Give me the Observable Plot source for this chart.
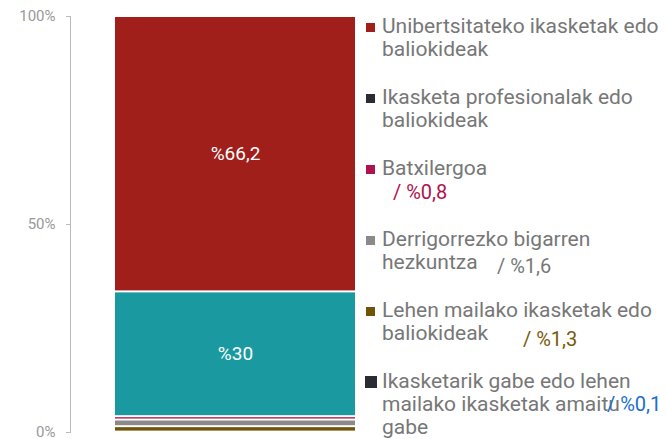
<!DOCTYPE html>
<html>
<head>
<meta charset="utf-8">
<script src="https://cdn.jsdelivr.net/npm/d3@7"></script>
<script src="https://cdn.jsdelivr.net/npm/@observablehq/plot@0.6"></script>
<style>
  html, body { margin: 0; padding: 0; background: #fff; }
  #wrap { position: relative; width: 667px; height: 439px; font-family: Roboto, sans-serif; }
  #legend { position: absolute; left: 366px; top: 15px; width: 302px; }
  .item { position: relative; height: 71px; font-size: 21px; line-height: 23px; color: #777; padding-left: 16px; box-sizing: border-box; }
  .sw { position: absolute; left: 0; top: 8px; width: 9px; height: 9px; }
  .pct { position: absolute; font-size: 20px; white-space: nowrap; }
</style>
</head>
<body>
<div id="wrap">
  <div id="chart"></div>
  <div id="legend"></div>
</div>
<script>
// Stack order from bottom to top
const categories = [
  "Ikasketarik gabe edo lehen mailako ikasketak amaitu gabe",
  "Lehen mailako ikasketak edo baliokideak",
  "Derrigorrezko bigarren hezkuntza",
  "Batxilergoa",
  "Ikasketa profesionalak edo baliokideak",
  "Unibertsitateko ikasketak edo baliokideak"
];
const values = [0.1, 1.3, 1.6, 0.8, 30, 66.2];
const barColors = ["#2b2b33", "#6f5306", "#8a8a8a", "#b0124e", "#1a9aa0", "#a11f1b"];
const swatchColors = ["#2b2b33", "#6f5306", "#8a8a8a", "#b0124e", "#2b2b33", "#a11f1b"];
const labelColors = ["#1a6fd0", "#7a5a08", "#777777", "#b0124e", "#ffffff", "#ffffff"];
const yTicks = [0, 50, 100];

const fmt = v => "%" + String(v).replace(".", ",");
const data = categories.map((c, i) => ({category: c, value: values[i], color: barColors[i]}));

const chart = Plot.plot({
  width: 667,
  height: 439,
  marginLeft: 70,
  marginRight: 312,
  marginTop: 16,
  marginBottom: 7,
  style: {fontFamily: "Roboto, sans-serif", background: "#fff"},
  x: {type: "band", domain: ["all"], range: [115, 355], padding: 0, axis: null},
  y: {domain: [0, 100]},
  marks: [
    Plot.frame({anchor: "left", stroke: "#bbbbbb"}),
    Plot.axisY({ticks: yTicks, tickSize: 4, tickPadding: 11, tickFormat: d => d + "%", fontSize: 15, color: "#999", stroke: "#bbbbbb", label: null}),
    Plot.barY(data, Plot.stackY({x: () => "all", y: "value", fill: "color", z: "category", insetTop: 1, insetBottom: 1})),
    Plot.text(data, Plot.stackY({x: () => "all", y: "value", z: "category", text: d => d.value >= 10 ? fmt(d.value) : "", fill: "#fff", fontSize: 19}))
  ]
});
document.getElementById("chart").appendChild(chart);

// Legend (top to bottom = reverse of stack order)
const pctPos = {
  "Batxilergoa": {left: 27, top: 24},
  "Derrigorrezko bigarren hezkuntza": {left: 131, top: 27},
  "Lehen mailako ikasketak edo baliokideak": {left: 157, top: 29},
  "Ikasketarik gabe edo lehen mailako ikasketak amaitu gabe": {left: 241, top: 23}
};
const legend = document.getElementById("legend");
for (let i = categories.length - 1; i >= 0; --i) {
  const item = document.createElement("div");
  item.className = "item";
  const sw = document.createElement("div");
  sw.className = "sw";
  sw.style.background = swatchColors[i];
  if (i === 0) { sw.style.width = "12px"; sw.style.height = "12px"; sw.style.top = "6px"; sw.style.left = "-1px"; }
  item.appendChild(sw);
  item.appendChild(document.createTextNode(categories[i]));
  const p = pctPos[categories[i]];
  if (p) {
    const s = document.createElement("span");
    s.className = "pct";
    s.style.left = p.left + "px";
    s.style.top = p.top + "px";
    s.style.color = labelColors[i];
    s.textContent = "/ " + fmt(values[i]);
    item.appendChild(s);
  }
  legend.appendChild(item);
}
</script>
</body>
</html>
